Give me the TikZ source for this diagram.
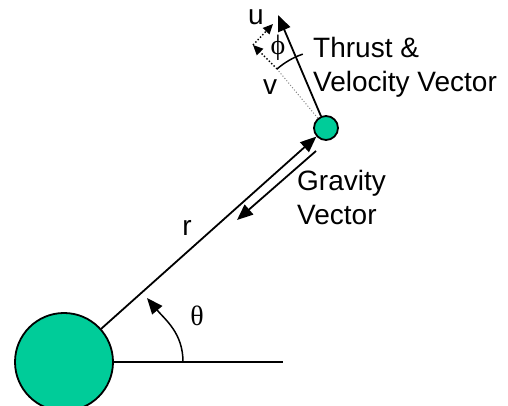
\documentclass[tikz,border=0pt]{standalone}
\usepackage{fontspec}
\setmainfont{Liberation Sans}
\newfontfamily\greekfont{Liberation Serif}
\usetikzlibrary{arrows.meta,positioning,calc}
\definecolor{orbgreen}{RGB}{0,204,153}

\begin{document}
\begin{tikzpicture}[
  x=1pt, y=1pt,
  body/.style={draw, circle, line width=1.8pt, fill=orbgreen, inner sep=0pt},
  vec/.style={-{Triangle[length=16pt,width=13pt]}, line width=1.8pt},
  dotvec/.style={-{Triangle[length=10pt,width=9pt]}, line width=1.4pt, dotted},
  lbl/.style={font=\fontsize{28}{34}\selectfont, inner sep=0pt, align=left},
  sym/.style={font=\greekfont\fontsize{28}{34}\selectfont, inner sep=0pt}
]
\clip (0,0) rectangle (508,406);

% bodies
\node[body, minimum size=98pt] (planet) at (64,44) {};
\node[body, minimum size=24pt] (sat) at (326,278) {};

% free ends
\coordinate (horizon) at (283,44);
\coordinate (thetaA) at (183,44);
\coordinate (thetaB) at (147,108);
\coordinate (thrust) at (278,391);
\coordinate (corner) at (253,361);
\coordinate (utip) at (273,382);
\coordinate (vmid) at (277,337);
\coordinate (gtop) at (316,255);
\coordinate (gbot) at (237,186);

% radius and reference line
\draw[line width=1.8pt] (planet.east) -- (horizon);
\draw[vec] (planet) -- (sat);
\draw[vec] (gtop) -- (gbot);
\draw[vec, line width=1.5pt] (thetaA) to[out=90, in=-50] (thetaB);

% thrust and its components
\draw[vec] (sat) -- (thrust);
\draw[gray, dotted, line width=1pt] (sat) -- (vmid);
\draw[dotvec] (vmid) -- (corner);
\draw[dotvec] (corner) -- (utip);
\draw[line width=1.5pt] (vmid) arc[start angle=131, end angle=109, radius=78];

% labels
\node[sym] (theta) at (197,90) {θ};
\node[lbl] (rlabel) at (187,178) {r};
\node[lbl] (vlabel) at (270,319) {v};
\node[lbl] (ulabel) at (256,389) {u};
\node[sym] (phi) at (278,358) {ϕ};
\node[lbl, anchor=north west] (thrustlabel) at (313,369) {Thrust \&\\Velocity Vector};
\node[lbl, anchor=north west] (gravlabel) at (297,236) {Gravity\\Vector};

\end{tikzpicture}
\end{document}
